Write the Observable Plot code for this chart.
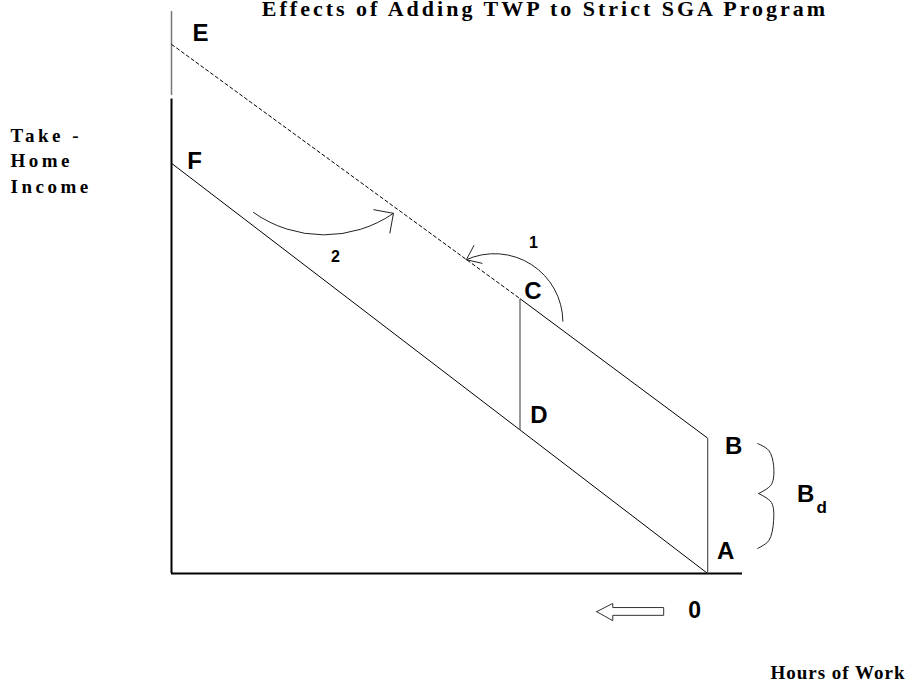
<!DOCTYPE html>
<html>
<head>
<meta charset="utf-8">
<script src="https://cdn.jsdelivr.net/npm/d3@7"></script>
<script src="https://cdn.jsdelivr.net/npm/@observablehq/plot@0.6"></script>
<style>
  html, body { margin: 0; padding: 0; background: #fff; }
  svg { display: block; }
</style>
</head>
<body>
<script>
// ---------------- Data (conceptual diagram units) ----------------
// Hours of work: 0 at point A, increasing to the left. Income: 0 on the horizontal axis.
const title = "Effects of Adding TWP to Strict SGA Program";
const yAxisLabel = "Take -\nHome\nIncome";
const xAxisLabel = "Hours of Work";
const originLabel = "0";

const pointNames  = ["A", "B", "C", "D", "E", "F"];
const pointHours  = [0,   0,   35,  35,  100, 100];
const pointIncome = [0,   33,  67,  35,  129, 100];

// budget-line segments between named points
const solidSegments    = [["F", "A"], ["C", "B"]];
const verticalSegments = [["B", "A"], ["C", "D"]];
const dashedSegments   = [["E", "C"]];

// axis extents
const axisHours  = [100, -6.5];
const axisIncomeTop = 137;
const axisBreak = [115.7, 116.5];

// curved annotation arrows
const arrowLabels = ["1", "2"];
const arrowStart = [[27, 61.5], [84.7, 88]];
const arrowEnd   = [[45, 76.5], [58.6, 87.8]];
const arrowLabelPos = [[32.5, 80.5], [69.4, 77.3]];

// brace next to segment A–B (B_d)
const braceTop    = [[-9.3, 31.7], [-11.4, 30.0], [-12.3, 26.3], [-11.9, 21.7], [-9.5, 19.5]];
const braceBottom = [[-9.5, 19.5], [-11.9, 17.3], [-12.3, 12.9], [-11.4, 8.0], [-9.3, 6.1]];
const braceLabel = "B";
const braceSub = "d";

// hollow arrow below the axis (direction of increasing hours)
const hollowArrow = [[20.7, -9.3], [17.7, -7.3], [17.7, -8.3], [8.2, -8.3], [8.2, -10.2],
                     [17.7, -10.2], [17.7, -11.5], [20.7, -9.3]];

// ---------------- Build ----------------
const P = {};
pointNames.forEach((n, i) => P[n] = {name: n, h: pointHours[i], y: pointIncome[i]});
const seg = (pairs) => pairs.map(([a, b]) => ({h1: P[a].h, y1: P[a].y, h2: P[b].h, y2: P[b].y}));

const labelOffset = {E: [29, -11], F: [23, -2], C: [13, -7], D: [19, -15], B: [26, 8], A: [18, -22]};

const sans = "'Liberation Sans', Arial, sans-serif";
const serif = "'Liberation Serif', 'Times New Roman', serif";

const arrows = arrowLabels.map((l, i) => ({label: l, h1: arrowStart[i][0], y1: arrowStart[i][1], h2: arrowEnd[i][0], y2: arrowEnd[i][1]}));

const chart = Plot.plot({
  width: 913,
  height: 688,
  marginLeft: 171,
  marginRight: 171,
  marginTop: 11,
  marginBottom: 115,
  x: {domain: axisHours, axis: null},
  y: {domain: [0, axisIncomeTop], axis: null},
  style: {background: "white", overflow: "visible"},
  marks: [
    // axes
    Plot.ruleY([0], {x1: axisHours[0], x2: axisHours[1], stroke: "black", strokeWidth: 2}),
    Plot.ruleX([axisHours[0]], {y1: 0, y2: axisBreak[0], stroke: "black", strokeWidth: 2}),
    Plot.ruleX([axisHours[0]], {y1: axisBreak[1], y2: axisIncomeTop, stroke: "#777", strokeWidth: 1.5}),
    // budget lines
    Plot.link(seg(solidSegments), {x1: "h1", y1: "y1", x2: "h2", y2: "y2", stroke: "black", strokeWidth: 1}),
    Plot.link(seg(verticalSegments), {x1: "h1", y1: "y1", x2: "h2", y2: "y2", stroke: "#555", strokeWidth: 1.2}),
    Plot.link(seg(dashedSegments), {x1: "h1", y1: "y1", x2: "h2", y2: "y2", stroke: "black", strokeWidth: 1, strokeDasharray: "4,2"}),
    // curved arrows
    Plot.arrow([arrows[0]], {x1: "h1", y1: "y1", x2: "h2", y2: "y2", bend: -57, headLength: 24, headAngle: 75, stroke: "#222", strokeWidth: 1}),
    Plot.arrow([arrows[1]], {x1: "h1", y1: "y1", x2: "h2", y2: "y2", bend: -35, headLength: 30, headAngle: 90, stroke: "#222", strokeWidth: 1}),
    Plot.text(arrowLabels, {x: (d, i) => arrowLabelPos[i][0], y: (d, i) => arrowLabelPos[i][1], text: d => d,
      fontFamily: sans, fontWeight: "bold", fontSize: 16, fill: "black"}),
    // brace
    Plot.line(braceTop, {x: d => d[0], y: d => d[1], curve: "catmull-rom", stroke: "#222", strokeWidth: 1}),
    Plot.line(braceBottom, {x: d => d[0], y: d => d[1], curve: "catmull-rom", stroke: "#222", strokeWidth: 1}),
    Plot.text([braceLabel], {x: braceTop[4][0], y: braceTop[4][1], text: d => d, dx: 47, dy: 1,
      fontFamily: sans, fontWeight: "bold", fontSize: 24, fill: "black"}),
    Plot.text([braceSub], {x: braceTop[4][0], y: braceTop[4][1], text: d => d, dx: 63, dy: 14,
      fontFamily: sans, fontWeight: "bold", fontSize: 17, fill: "black"}),
    // hollow arrow + origin label
    Plot.line(hollowArrow, {x: d => d[0], y: d => d[1], stroke: "#333", strokeWidth: 1, fill: "white"}),
    Plot.text([originLabel], {x: P.A.h, y: P.A.y, text: d => d, dx: -13, dy: 37,
      fontFamily: sans, fontWeight: "bold", fontSize: 23, fill: "black"}),
    // point labels
    ...pointNames.map(n => Plot.text([P[n]], {x: "h", y: "y", text: "name", dx: labelOffset[n][0], dy: labelOffset[n][1],
      fontFamily: sans, fontWeight: "bold", fontSize: 24, fill: "black"})),
    // titles
    Plot.text([title], {frameAnchor: "top", text: d => d, dx: 88, dy: 4, lineAnchor: "bottom",
      fontFamily: serif, fontWeight: "bold", fontSize: 22, fill: "black"}),
    Plot.text([yAxisLabel], {frameAnchor: "top-left", text: d => d, dx: -161, dy: 181, lineAnchor: "bottom", textAnchor: "start",
      lineHeight: 1.32, fontFamily: serif, fontWeight: "bold", fontSize: 19, fill: "black"}),
    Plot.text([xAxisLabel], {frameAnchor: "bottom-right", text: d => d, dx: 163, dy: 105, lineAnchor: "bottom", textAnchor: "end",
      fontFamily: serif, fontWeight: "bold", fontSize: 19, fill: "black"})
  ]
});

document.body.appendChild(chart);

// letter spacing for the serif labels
const spacing = new Map([[title, "3px"], [xAxisLabel, "1px"]]);
d3.select(chart).selectAll("text").each(function () {
  const t = this.textContent;
  if (spacing.has(t)) this.setAttribute("letter-spacing", spacing.get(t));
  if (t === yAxisLabel.replace(/\n/g, "")) this.setAttribute("letter-spacing", "3.5px");
});
</script>
</body>
</html>
